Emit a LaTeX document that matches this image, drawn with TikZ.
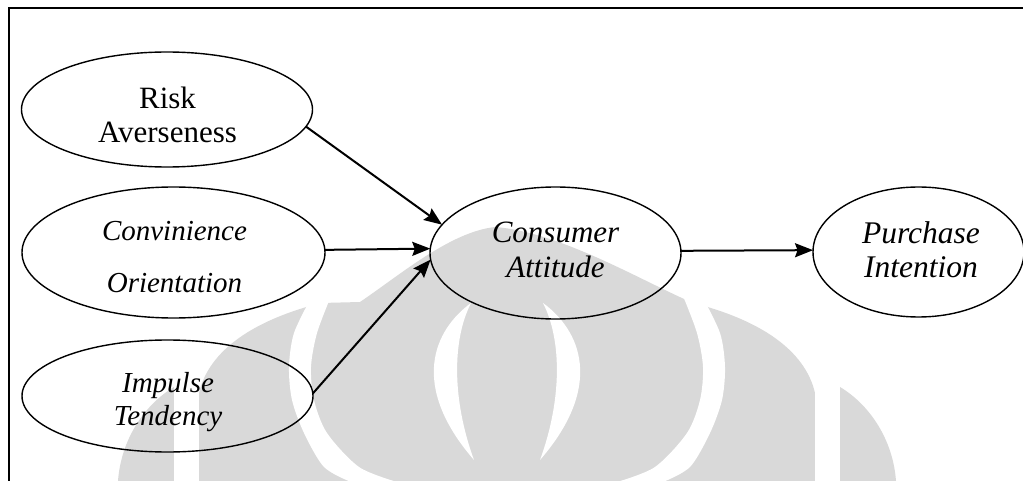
\documentclass[tikz,border=0pt]{standalone}
\usepackage{fontspec}
\setmainfont{Liberation Serif}
\usetikzlibrary{shapes.geometric,arrows.meta}
\definecolor{wmgray}{RGB}{217,217,217}
\begin{document}
\begin{tikzpicture}[x=1pt,y=-1pt,
  construct/.style={ellipse, draw=black, line width=1.4pt, inner sep=0pt, outer sep=0pt},
  lbl/.style={align=center, inner sep=0pt},
  link/.style={line width=2pt, -{Stealth[length=18pt,width=14pt,inset=2.5pt]}},
]
\useasboundingbox (0,0) rectangle (1023,481);
\fill[white] (0,0) rectangle (1023,481);

% faint emblem in the background
\fill[wmgray] (118,481) .. controls (121,440) and (144,405) .. (174,387)
  -- (199,393) .. controls (209,350) and (254,320) .. (321,303)
  -- (360,302) .. controls (400,275) and (450,232) .. (495,227)
  .. controls (560,232) and (640,280) .. (693,303)
  .. controls (760,320) and (805,350) .. (815,393)
  -- (840,387) .. controls (870,405) and (893,440) .. (896,481) -- cycle;
% white gaps cut into the emblem
\fill[white] (815,384) rectangle (840,481);
\fill[white] (174,384) rectangle (199,481);
\fill[white] plot[smooth] coordinates {(683,296) (697,333) (703,367) (700,400) (687,433) (655,467) (617,482)}
  -- plot[smooth] coordinates {(663,482) (690,467) (710,433) (722,400) (725,367) (720,333) (702,296)} -- cycle;
\fill[white] plot[smooth] coordinates {(331,296) (317,333) (311,367) (314,400) (327,433) (359,467) (397,482)}
  -- plot[smooth] coordinates {(351,482) (324,467) (304,433) (292,400) (289,367) (294,333) (312,296)} -- cycle;
\fill[white] (543,303) .. controls (580,330) and (605,385) .. (540,460)
  .. controls (562,400) and (562,340) .. (543,303) -- cycle;
\fill[white] (471,303) .. controls (434,330) and (409,385) .. (474,460)
  .. controls (452,400) and (452,340) .. (471,303) -- cycle;

% frame
\draw[line width=2pt] (9,481) -- (9,8) -- (1023,8);

% constructs
\node[construct, minimum width=291pt, minimum height=115pt] (risk) at (167,109.5) {};
\node[construct, minimum width=303pt, minimum height=131pt] (conv) at (173.5,252.5) {};
\node[construct, minimum width=291pt, minimum height=112pt] (imp) at (167.5,396) {};
\node[construct, minimum width=251pt, minimum height=132pt] (ca) at (555.5,253) {};
\node[construct, minimum width=211pt, minimum height=130pt] (pi) at (918.5,252) {};

% labels
\node[lbl, font=\fontsize{31}{34}\selectfont] (risklbl) at (167.5,114.5) {Risk\\Averseness};
\node[lbl, font=\fontsize{29}{52}\selectfont\itshape] (convlbl) at (174.5,257) {Convinience\\Orientation};
\node[lbl, font=\fontsize{29}{33}\selectfont\itshape] (implbl) at (168,401.7) {Impulse\\Tendency};
\node[lbl, font=\fontsize{31}{35}\selectfont\itshape] (calbl) at (555.5,250.2) {Consumer\\Attitude};
\node[lbl, font=\fontsize{31.5}{34}\selectfont\itshape] (pilbl) at (921,250.2) {Purchase\\Intention};

% paths
\draw[link] (risk.-7) -- (ca.166);
\draw[link] (conv.1.3) -- (ca.178.5);
\draw[link] (imp.1) -- (ca.183);
\draw[link] (ca.1.5) -- (pi.179);
\end{tikzpicture}
\end{document}
